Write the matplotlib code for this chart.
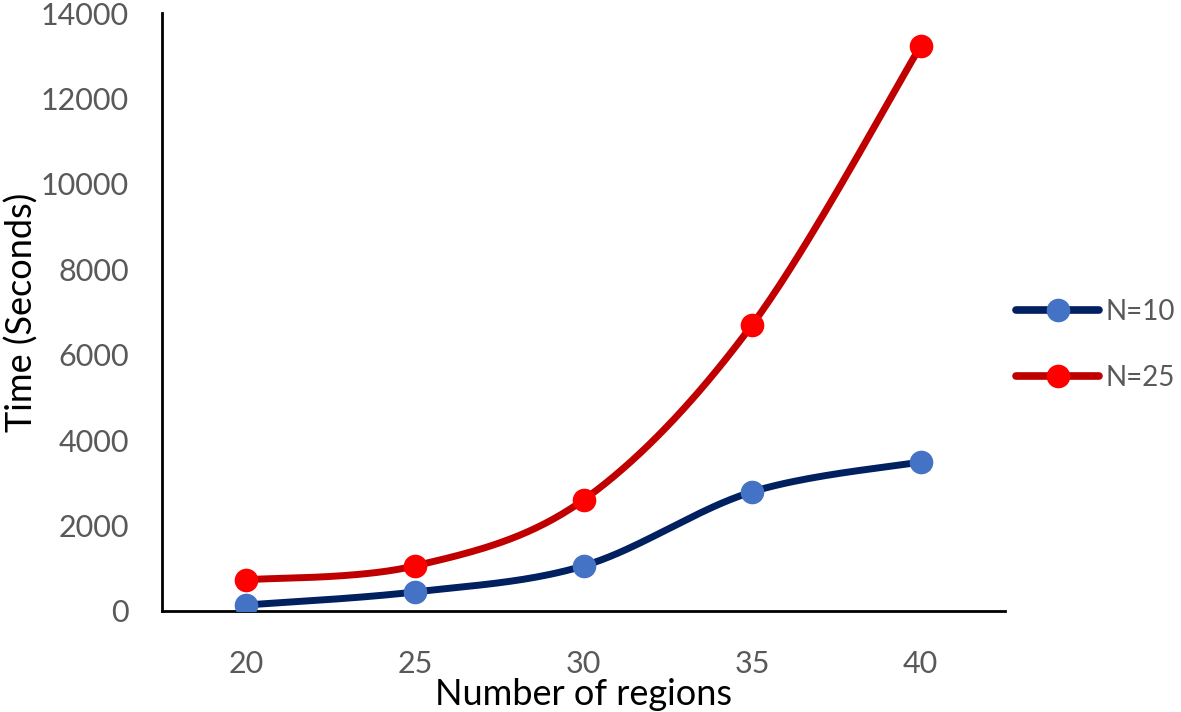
import numpy as np
import matplotlib.pyplot as plt

regions = [20, 25, 30, 35, 40]
time_n10 = [140, 445, 1055, 2790, 3490]
time_n25 = [730, 1055, 2600, 6700, 13230]

plt.rcParams['font.family'] = ['Lato', 'DejaVu Sans']


def smooth(xs, ys, n=40):
    # Excel-like smoothed line: cubic Bezier, control points from neighbours / 6
    pts = np.column_stack([xs, ys]).astype(float)
    ext = np.vstack([pts[0], pts, pts[-1]])
    out = [pts[0]]
    t = np.linspace(0, 1, n)[1:, None]
    for i in range(1, len(ext) - 2):
        p0, p1, p2, p3 = ext[i - 1], ext[i], ext[i + 1], ext[i + 2]
        c1 = p1 + (p2 - p0) / 6
        c2 = p2 - (p3 - p1) / 6
        seg = ((1 - t) ** 3) * p1 + 3 * ((1 - t) ** 2) * t * c1 + 3 * (1 - t) * t ** 2 * c2 + t ** 3 * p2
        out.extend(seg)
    out = np.array(out)
    return out[:, 0], out[:, 1]


fig = plt.figure(figsize=(11.81, 7.12), dpi=100)
ax = fig.add_axes([0.1372, 0.1419, 0.7138, 0.8398])

series = [
    (time_n10, '#002060', '#4472C4', 'N=10'),
    (time_n25, '#C00000', '#FF0000', 'N=25'),
]
for vals, lc, mc, lab in series:
    sx, sy = smooth(regions, vals)
    ax.plot(sx, sy, color=lc, lw=5, solid_capstyle='round', zorder=2)
    ax.plot(regions, vals, ls='none', marker='o', ms=16, color=mc, zorder=3)
    ax.plot([], [], color=lc, lw=5.5, marker='o', ms=16, mfc=mc, mec=mc,
            solid_capstyle='round', label=lab)

ax.set_xlim(17.5, 42.5)
ax.set_ylim(0, 14000)
ax.set_xticks(regions)
ax.set_yticks(np.arange(0, 14001, 2000))
ax.tick_params(length=0, labelsize=22, labelcolor='#595959', pad=24)
ax.tick_params(axis='x', pad=28)
for s in ['top', 'right']:
    ax.spines[s].set_visible(False)
for s in ['left', 'bottom']:
    ax.spines[s].set_linewidth(2)
    ax.spines[s].set_color('black')

ax.set_xlabel('Number of regions', fontsize=26, labelpad=0)
ax.set_ylabel('Time (Seconds)', fontsize=26)
ax.yaxis.set_label_coords(-0.146, 0.5)

ax.legend(loc='center left', bbox_to_anchor=(1.0, 0.445), frameon=False,
          fontsize=20, labelcolor='#595959', handlelength=3.0,
          labelspacing=1.45, handletextpad=0.2, borderaxespad=0.3,
          borderpad=0.1)

fig.savefig('out.png', dpi=100)
